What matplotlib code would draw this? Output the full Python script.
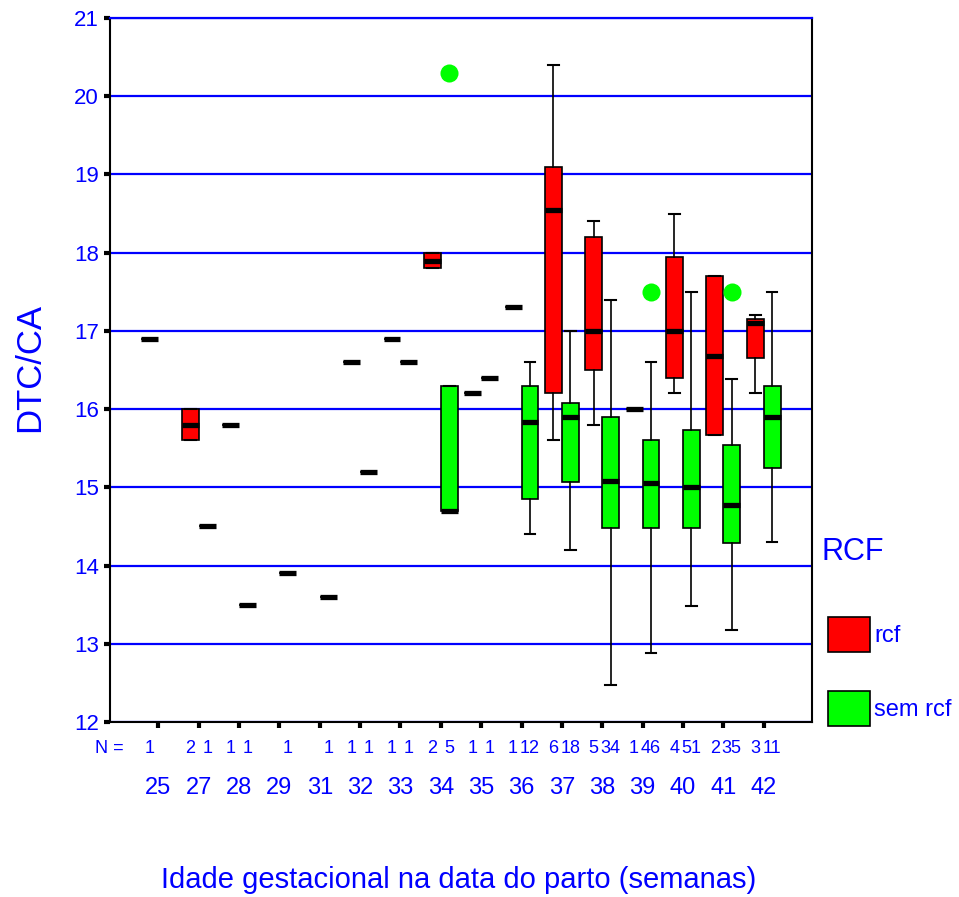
import numpy as np
import matplotlib.pyplot as plt
import matplotlib.transforms as mtransforms
from matplotlib.patches import Rectangle

# semanas de gestação
semanas = ["25", "27", "28", "29", "31", "32", "33", "34",
           "35", "36", "37", "38", "39", "40", "41", "42"]

# rcf (vermelho): bigode inferior, Q1, mediana, Q3, bigode superior
rcf_lo = [16.9, 15.6, 15.8, None, None, 16.6, 16.9, 17.8, 16.2, 17.3, 15.6, 15.8, 16.0, 16.2, 15.67, 16.2]
rcf_q1 = [16.9, 15.6, 15.8, None, None, 16.6, 16.9, 17.8, 16.2, 17.3, 16.2, 16.5, 16.0, 16.4, 15.67, 16.65]
rcf_med = [16.9, 15.8, 15.8, None, None, 16.6, 16.9, 17.9, 16.2, 17.3, 18.55, 17.0, 16.0, 17.0, 16.68, 17.1]
rcf_q3 = [16.9, 16.0, 15.8, None, None, 16.6, 16.9, 18.0, 16.2, 17.3, 19.1, 18.2, 16.0, 17.95, 17.7, 17.15]
rcf_hi = [16.9, 16.0, 15.8, None, None, 16.6, 16.9, 18.0, 16.2, 17.3, 20.4, 18.4, 16.0, 18.5, 17.7, 17.2]
rcf_n = [1, 2, 1, 0, 0, 1, 1, 2, 1, 1, 6, 5, 1, 4, 2, 3]

# sem rcf (verde)
sem_lo = [None, 14.5, 13.5, 13.9, 13.6, 15.2, 16.6, 14.7, 16.4, 14.4, 14.2, 12.47, 12.88, 13.48, 13.18, 14.3]
sem_q1 = [None, 14.5, 13.5, 13.9, 13.6, 15.2, 16.6, 14.7, 16.4, 14.85, 15.07, 14.48, 14.48, 14.48, 14.29, 15.25]
sem_med = [None, 14.5, 13.5, 13.9, 13.6, 15.2, 16.6, 14.7, 16.4, 15.83, 15.9, 15.08, 15.05, 15.0, 14.78, 15.9]
sem_q3 = [None, 14.5, 13.5, 13.9, 13.6, 15.2, 16.6, 16.3, 16.4, 16.3, 16.08, 15.9, 15.6, 15.73, 15.54, 16.3]
sem_hi = [None, 14.5, 13.5, 13.9, 13.6, 15.2, 16.6, 16.3, 16.4, 16.6, 17.0, 17.4, 16.6, 17.5, 16.38, 17.5]
sem_out = [[], [], [], [], [], [], [], [20.3], [], [], [], [], [17.5], [], [17.5], []]
sem_n = [0, 1, 1, 1, 1, 1, 1, 5, 1, 12, 18, 34, 46, 51, 35, 11]

BLUE = "#0000FF"
FONT = ["Liberation Sans", "DejaVu Sans"]


def make_stats(lo, q1, med, q3, hi, out=None):
    stats, pos = [], []
    for i in range(len(med)):
        if med[i] is None:
            continue
        stats.append(dict(whislo=lo[i], q1=q1[i], med=med[i], q3=q3[i], whishi=hi[i],
                          fliers=out[i] if out else []))
        pos.append(i)
    return stats, np.array(pos)


fig = plt.figure(figsize=(9.59, 8.97), dpi=100)
ax = fig.add_axes([0.1147, 0.1951, 0.7320, 0.7848])

off, w = 0.21, 0.42
series = [
    (make_stats(rcf_lo, rcf_q1, rcf_med, rcf_q3, rcf_hi), -off, "#FF0000"),
    (make_stats(sem_lo, sem_q1, sem_med, sem_q3, sem_hi, sem_out), off, "#00FF00"),
]
for (stats, pos), dx, col in series:
    ax.bxp(stats, positions=pos + dx, widths=w, patch_artist=True, manage_ticks=False,
           capwidths=0.27,
           boxprops=dict(facecolor=col, edgecolor="black", linewidth=1.2),
           whiskerprops=dict(color="black", linewidth=1.2),
           capprops=dict(color="black", linewidth=1.5),
           medianprops=dict(color="black", linewidth=3.8, solid_capstyle="butt"),
           flierprops=dict(marker="o", markerfacecolor="#00FF00", markeredgecolor="none",
                           markersize=13))

ax.set_xlim(-1.2, 16.2)
ax.set_ylim(12, 21)
ax.set_yticks(range(12, 22))
ax.yaxis.grid(True, color=BLUE, linewidth=1.6)
ax.set_axisbelow(True)
ax.spines["top"].set_color(BLUE)
ax.spines["top"].set_linewidth(1.6)
for s in ["left", "right", "bottom"]:
    ax.spines[s].set_linewidth(1.5)

ax.set_xticks(range(len(semanas)))
ax.set_xticklabels([])
ax.tick_params(axis="both", direction="out", length=4, width=3, color="black")
ax.tick_params(axis="y", labelcolor=BLUE, labelsize=16, pad=4)
for lab in ax.get_yticklabels():
    lab.set_family(FONT)

trans = mtransforms.blended_transform_factory(ax.transData, ax.transAxes)
for i, g in enumerate(semanas):
    ax.text(i, -0.0938, g, transform=trans, ha="center", va="center",
            fontsize=17, color=BLUE, family=FONT, clip_on=False)
    if rcf_n[i] > 0:
        ax.text(i - off, -0.038, str(rcf_n[i]), transform=trans, ha="center", va="center",
                fontsize=13, color=BLUE, family=FONT, clip_on=False)
    if sem_n[i] > 0:
        ax.text(i + off, -0.038, str(sem_n[i]), transform=trans, ha="center", va="center",
                fontsize=13, color=BLUE, family=FONT, clip_on=False)
ax.text(0.019, -0.038, "N =", transform=ax.transAxes, ha="right", va="center",
        fontsize=13, color=BLUE, family=FONT)

fig.text(0.478, 1 - 880 / 897, "Idade gestacional na data do parto (semanas)",
         ha="center", va="center", fontsize=21, color=BLUE, family=FONT)
fig.text(30 / 959, 1 - 368 / 897, "DTC/CA", rotation=90, ha="center", va="center",
         fontsize=25, color=BLUE, family=FONT)

# legenda
fig.text(822 / 959, 1 - 552 / 897, "RCF", ha="left", va="center",
         fontsize=22, color=BLUE, family=FONT)
for y0, col, lab in [(617, "#FF0000", "rcf"), (691, "#00FF00", "sem rcf")]:
    fig.patches.append(Rectangle((828 / 959, 1 - (y0 + 35) / 897), 42 / 959, 35 / 897,
                                 transform=fig.transFigure, facecolor=col,
                                 edgecolor="black", linewidth=1.2))
    fig.text(874 / 959, 1 - (y0 + 19) / 897, lab, ha="left", va="center",
             fontsize=17, color=BLUE, family=FONT)

plt.savefig("out.png", dpi=100)
